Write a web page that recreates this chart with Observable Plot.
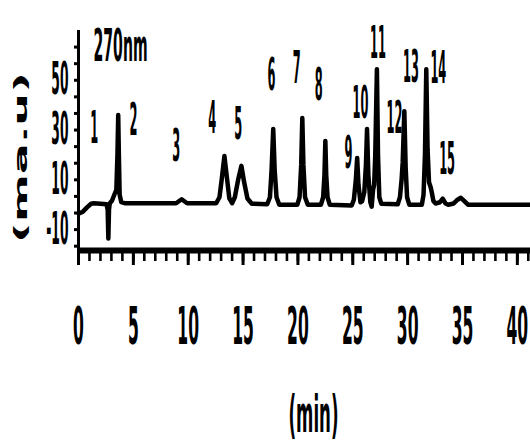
<!DOCTYPE html>
<html>
<head>
<meta charset="utf-8">
<script src="https://cdn.jsdelivr.net/npm/d3@7"></script>
<script src="https://cdn.jsdelivr.net/npm/@observablehq/plot@0.6"></script>
<style>
  html, body { margin: 0; padding: 0; background: #fff; overflow: hidden; }
  #chart svg { display: block; }
</style>
</head>
<body>
<div id="chart"></div>
<script>
// ---- data ----
const time = [0.00, 0.40, 0.80, 1.15, 1.40, 2.00, 2.55, 2.66, 2.72, 2.78, 2.85, 3.05, 3.30, 3.45, 3.55, 3.62, 3.68, 3.75, 3.90, 4.20,
  8.90, 9.15, 9.40, 9.65, 9.90, 12.55, 12.85, 13.05, 13.30, 13.55, 13.75, 14.00, 14.25, 14.55, 14.85, 15.10, 15.40, 15.80,
  17.20, 17.45, 17.60, 17.75, 17.88, 18.05, 18.30, 19.95, 20.15, 20.30, 20.40, 20.50, 20.65, 20.90,
  22.10, 22.30, 22.42, 22.50, 22.58, 22.70, 22.90, 24.90, 25.10, 25.28, 25.40, 25.52, 25.70, 25.85, 26.05, 26.20, 26.30, 26.42, 26.60, 26.72,
  26.85, 26.95, 27.05, 27.20, 27.30, 27.42, 27.60, 29.10, 29.30, 29.45, 29.55, 29.70, 29.82, 29.95, 30.15,
  31.30, 31.45, 31.58, 31.70, 31.82, 31.95, 32.10, 32.20, 32.35, 32.55, 32.95, 33.20, 33.45, 33.70, 34.20, 34.55, 34.85, 35.15, 35.50, 41.2];
const signal = [-3.6, -2.8, -1.0, 0.4, 0.6, 0.4, 0.2, -2, -13.6, -2, 0.6, 1.6, 4.4, 6, 20, 36, 20, 4, 1.0, 0.6,
  0.6, 1.4, 2.2, 1.4, 0.6, 0.6, 3, 10, 19.6, 10, 2.5, 0.6, 3, 10, 15.6, 9, 2.5, 0.4,
  0.2, 3, 14, 30.4, 14, 3, 0, 0, 3, 16, 34.8, 16, 3, 0,
  0, 3, 12, 25.6, 12, 3, 0, -0.3, 2, 10, 18.8, 8, 1, 1.4, 5, 16, 30.4, 12, 1, -0.8,
  6, 8, 20, 54.4, 20, 3, 0.4, 0.2, 3, 10, 17, 37.6, 15, 3, 0,
  0, 4, 20, 54.4, 22, 9, 7, 5, 1.5, 0.5, 1, 2.4, 0.5, 0, 0.5, 2, 2.8, 1.5, 0, 0];

const peakNames = ["1","2","3","4","5","6","7","8","9","10","11","12","13","14","15"];
const peakLabelTime = [1.43, 5.0, 8.9, 12.2, 14.55, 17.6, 19.9, 21.9, 24.6, 25.7, 27.3, 28.8, 30.3, 32.8, 33.6];
const peakLabelSignal = [30.4, 33.6, 23.2, 34.4, 32, 51.6, 54.4, 47.6, 20.4, 40.4, 64.8, 34.4, 55, 54.4, 18];

const xTickLabels = [0, 5, 10, 15, 20, 25, 30, 35, 40];
const yTickLabels = [50, 30, 10, -10];
const wavelength = "270nm";
const xTitle = "(min)";
const yTitle = "(ma.u)";

// ---- build tables ----
const trace = time.map((t, i) => ({t, v: signal[i]}));
const peaks = peakNames.map((n, i) => ({name: n, t: peakLabelTime[i], v: peakLabelSignal[i]}));
const xMinor = d3.range(0, 42, 1);
const yMinor = d3.range(-50 / 3, 70, 20 / 3);

const FONT = "DejaVu Sans";
const chart = Plot.plot({
  width: 530,
  height: 444,
  marginLeft: 78,
  marginRight: 0,
  marginTop: 30,
  marginBottom: 194,
  style: {fontFamily: FONT, background: "#fff", color: "#000"},
  x: {domain: [0, 41.2], axis: null},
  y: {domain: [-18.4, 70], axis: null},
  marks: [
    // minor & major x ticks
    Plot.axisX(xMinor, {tickSize: 11, strokeWidth: 2.6, tickFormat: () => "", label: null}),
    Plot.axisX(xTickLabels, {tickSize: 15, strokeWidth: 3, tickFormat: () => "", label: null}),
    // y minor ticks
    Plot.axisY(yMinor, {tickSize: 4, strokeWidth: 3, tickFormat: () => "", label: null}),
    // axis lines
    Plot.ruleX([0], {strokeWidth: 3}),
    Plot.ruleY([-18.4], {strokeWidth: 6}),
    // tick labels
    Plot.text(xTickLabels, {x: d => d, text: d => String(d), frameAnchor: "bottom", dy: 77, lineAnchor: "middle",
      fontSize: 52, fontWeight: "bold", className: "sq-x"}),
    Plot.text(yTickLabels, {y: d => d, text: d => String(d), frameAnchor: "left", dx: -10, textAnchor: "end",
      lineAnchor: "middle", fontSize: 44, fontWeight: "bold", className: "sq-y"}),
    // chromatogram
    Plot.line(trace, {x: "t", y: "v", stroke: "#000", strokeWidth: 4.5, strokeLinejoin: "round", curve: "linear"}),
    // peak labels
    Plot.text(peaks, {x: "t", y: "v", text: "name", fontSize: 44, fontWeight: "bold", lineAnchor: "middle", className: "sq-p"}),
    // wavelength
    Plot.text([wavelength], {frameAnchor: "top-left", dx: 15, dy: 16, textAnchor: "start", lineAnchor: "middle",
      fontSize: 44, fontWeight: "bold", className: "sq-t"}),
    // axis titles
    Plot.text([xTitle], {frameAnchor: "bottom", dx: 9, dy: 165, lineAnchor: "middle", fontSize: 52, fontWeight: "bold", className: "sq-xt"}),
    Plot.text([yTitle], {frameAnchor: "left", dx: -56, dy: 17, rotate: -90, textAnchor: "middle", lineAnchor: "middle",
      fontSize: 46, fontWeight: "bold", className: "sq-yt"})
  ]
});
document.getElementById("chart").appendChild(chart);

// The reference's lettering is strongly condensed horizontally: squeeze each label in screen x.
function squeeze(cls, s) {
  chart.querySelectorAll("g." + cls + " text").forEach(t => {
    if (!t.textContent) return;
    const r = t.getBoundingClientRect();
    const anchor = getComputedStyle(t).textAnchor;
    const rotated = /rotate/.test(t.getAttribute("transform") || "");
    let px = r.left + r.width / 2;
    if (!rotated && anchor === "end") px = r.right;
    if (!rotated && anchor === "start") px = r.left;
    const g = document.createElementNS("http://www.w3.org/2000/svg", "g");
    t.parentNode.insertBefore(g, t);
    g.appendChild(t);
    const m = g.getScreenCTM();
    const lx = (px - m.e) / m.a;
    g.setAttribute("transform", `translate(${lx},0) scale(${s},1) translate(${-lx},0)`);
  });
}
squeeze("sq-x", 0.3);
squeeze("sq-y", 0.28);
squeeze("sq-p", 0.26);
squeeze("sq-t", 0.32);
squeeze("sq-xt", 0.32);
squeeze("sq-yt", 0.38);
</script>
</body>
</html>
